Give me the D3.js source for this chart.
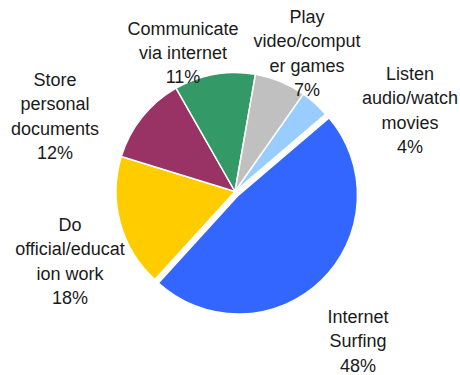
<!DOCTYPE html>
<html>
<head>
<meta charset="utf-8">
<script src="https://cdn.jsdelivr.net/npm/d3@7"></script>
<style>
  html, body { margin: 0; padding: 0; background: #ffffff; }
  svg { display: block; }
</style>
</head>
<body>
<svg id="chart" width="460" height="375"></svg>
<script>
// Share of time spent on each computer activity (percent)
const categories = [
  "Internet Surfing",
  "Do official/education work",
  "Store personal documents",
  "Communicate via internet",
  "Play video/computer games",
  "Listen audio/watch movies"
];
const values = [48, 18, 12, 11, 7, 4];
const colors = ["#3366ff", "#ffcc00", "#993366", "#339966", "#c0c0c0", "#99ccff"];

// Category names as they wrap inside their label boxes
const labelLines = [
  ["Internet", "Surfing"],
  ["Do", "official/educat", "ion work"],
  ["Store", "personal", "documents"],
  ["Communicate", "via internet"],
  ["Play", "video/comput", "er games"],
  ["Listen", "audio/watch", "movies"]
];

// Slices pulled out from the pie (by index)
const exploded = [true, false, false, false, false, false];

// Centre of each label block (layout only)
const labelCenters = [
  [358, 341],
  [70, 261],
  [55, 116],
  [183, 52.5],
  [307, 53],
  [410, 110]
];

const width = 460, height = 375;
const cx = 235, cy = 191.5, radius = 119;
const explodeDist = 5;
const fontSize = 18, lineHeight = 24.3;

const svg = d3.select("#chart");

const startAngle = 49.5 * Math.PI / 180;
const pie = d3.pie()
  .sort(null)
  .value(d => d.value)
  .startAngle(startAngle)
  .endAngle(startAngle + 2 * Math.PI);

const data = categories.map((c, i) => ({ name: c, value: values[i], color: colors[i], i }));
const arcs = pie(data);

const arc = d3.arc().innerRadius(0).outerRadius(radius);

const g = svg.append("g").attr("transform", `translate(${cx},${cy})`);

g.selectAll("path.slice")
  .data(arcs)
  .join("path")
  .attr("class", "slice")
  .attr("d", arc)
  .attr("fill", d => d.data.color)
  .attr("stroke", "#ffffff")
  .attr("stroke-width", 1.5)
  .attr("stroke-linejoin", "round")
  .attr("transform", d => {
    if (!exploded[d.data.i]) return null;
    const mid = (d.startAngle + d.endAngle) / 2;
    return `translate(${Math.sin(mid) * explodeDist},${-Math.cos(mid) * explodeDist})`;
  });

const labels = svg.append("g")
  .attr("font-family", '"Liberation Sans", Arial, sans-serif')
  .attr("font-size", fontSize)
  .attr("fill", "#1a1a1a")
  .attr("text-anchor", "middle");

arcs.forEach(d => {
  const i = d.data.i;
  const lines = labelLines[i].concat([d.data.value + "%"]);
  const [lx, ly] = labelCenters[i];
  const top = ly - (lines.length - 1) * lineHeight / 2;
  const t = labels.append("text");
  lines.forEach((s, k) => {
    t.append("tspan")
      .attr("x", lx)
      .attr("y", top + k * lineHeight + fontSize * 0.36)
      .text(s);
  });
});
</script>
</body>
</html>
